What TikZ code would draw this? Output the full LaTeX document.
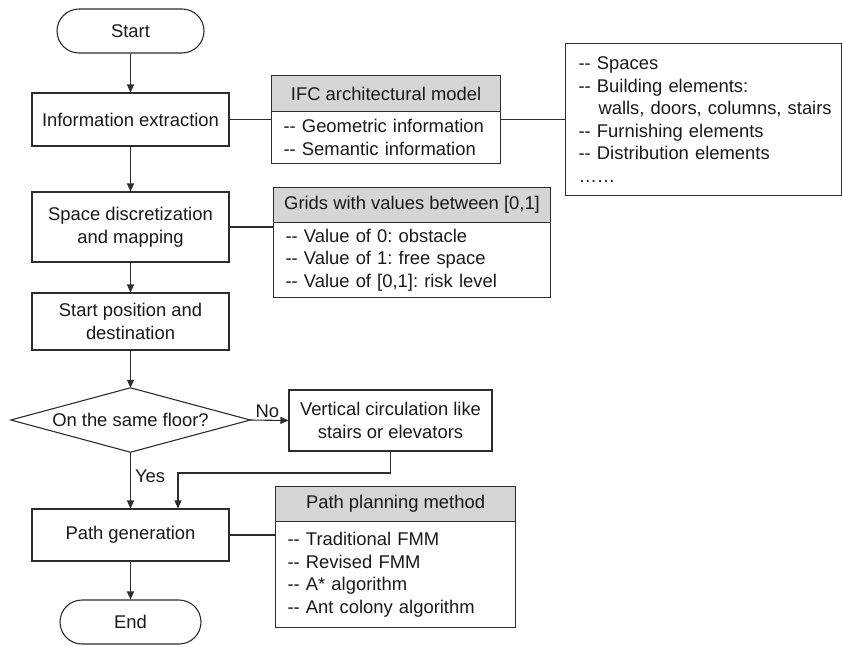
\documentclass[tikz,border=0pt]{standalone}
\usepackage{fontspec}
\setmainfont{Liberation Sans}[Ligatures=TeXOff]
\usetikzlibrary{arrows.meta}
\definecolor{lc}{RGB}{45,45,45}
\definecolor{tc}{RGB}{25,25,25}
\definecolor{hc}{RGB}{212,213,215}
\frenchspacing
\begin{document}
\begin{tikzpicture}[x=1pt,y=-1pt,
  font=\fontsize{18.4}{22.5}\selectfont,
  line/.style={draw=lc, line width=1.1pt},
  arr/.style={line, -{Triangle[length=8pt,width=7pt]}},
  proc/.style={draw=lc, line width=1.1pt, align=center, inner sep=0pt, text=tc},
  term/.style={proc, rounded corners=22pt},
  hdr/.style={draw=lc, fill=hc, line width=1.1pt, inner sep=0pt, anchor=north west, text=tc},
  lst/.style={draw=lc, line width=1.1pt, inner xsep=12pt, inner ysep=0pt, anchor=north west, align=left, text=tc},
  lbl/.style={text=tc, inner sep=1pt}]
\useasboundingbox (0,0) rectangle (842,646);

% main flow
\node[term, minimum width=147pt, minimum height=44pt] (start) at (130.5,31) {Start};
\node[proc, minimum width=197pt, minimum height=53pt] (info) at (130.5,119.5) {Information extraction};
\node[proc, minimum width=197pt, minimum height=70pt] (space) at (130.5,227) {Space discretization\\and mapping};
\node[proc, minimum width=197pt, minimum height=57pt] (spos) at (130.5,321.5) {Start position and\\destination};
\node[inner sep=0pt, minimum width=239pt, minimum height=64pt, text=tc] (dec) at (130.5,420) {On the same floor?};
\draw[line] (dec.west) -- (dec.north) -- (dec.east) -- (dec.south) -- cycle;
\node[proc, minimum width=203pt, minimum height=61pt] (vert) at (390.5,420.5) {Vertical circulation like\\stairs or elevators};
\node[proc, minimum width=197pt, minimum height=52pt] (path) at (130.5,535) {Path generation};
\node[term, minimum width=141pt, minimum height=44pt] (end) at (130.5,622) {End};

% side boxes
\node[hdr, minimum width=229pt, minimum height=36pt] (ifch) at (271,75) {IFC architectural model};
\node[lst, text width=205pt, minimum height=52pt] (ifcb) at (271,111) {-- Geometric information\\-- Semantic information};
\node[lst, inner xsep=13pt, text width=250pt, minimum height=152pt] (rb) at (565,43)
  {-- Spaces\\-- Building elements:\\\mbox{\hspace*{20pt}walls, doors, columns, stairs}\\-- Furnishing elements\\-- Distribution elements\\……};
\node[hdr, minimum width=277pt, minimum height=35pt] (gridh) at (273,187) {Grids with values between [0,1]};
\node[lst, text width=253pt, minimum height=75pt] (gridb) at (273,222) {-- Value of 0: obstacle\\-- Value of 1: free space\\-- Value of [0,1]: risk level};
\node[hdr, minimum width=240pt, minimum height=35pt] (pph) at (275,486) {Path planning method};
\node[lst, text width=216pt, minimum height=106pt] (ppb) at (275,521) {-- Traditional FMM\\-- Revised FMM\\-- A* algorithm\\-- Ant colony algorithm};

% connectors
\draw[arr] (start) -- (info);
\draw[arr] (info) -- (space);
\draw[arr] (space) -- (spos);
\draw[arr] (spos) -- (dec.north);
\draw[arr] (dec.east) -- (vert.west) node[lbl, pos=0.45, above=1pt] {No};
\draw[arr] (dec.south) -- (path.north) node[lbl, pos=0.42, right=3pt] {Yes};
\coordinate (j) at (178,473);
\draw[arr] (vert.south) |- (j) -- (j |- path.north);
\draw[arr] (path) -- (end);

\draw[line] (info.east) -- (info.east -| ifcb.west);
\draw[line] (info.east -| ifcb.east) -- (info.east -| rb.west);
\draw[line] (space.east) -- (space.east -| gridb.west);
\draw[line] (path.east) -- (path.east -| ppb.west);
\end{tikzpicture}
\end{document}
